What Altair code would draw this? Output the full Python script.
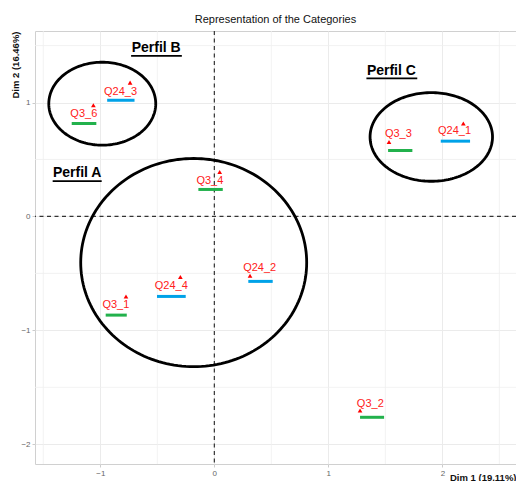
import altair as alt
import pandas as pd
import numpy as np

# ---- data ----
labels = ["Q24_3", "Q3_6", "Q3_4", "Q24_2", "Q24_4", "Q3_1", "Q3_2", "Q3_3", "Q24_1"]
pt_x = [-0.739, -1.061, 0.047, 0.313, -0.298, -0.775, 1.278, 1.532, 2.184]
pt_y = [1.175, 0.976, 0.391, -0.521, -0.532, -0.702, -1.703, 0.653, 0.816]
lab_x = [-0.823, -1.145, -0.039, 0.398, -0.378, -0.864, 1.368, 1.614, 2.107]
lab_y = [1.095, 0.897, 0.314, -0.452, -0.610, -0.778, -1.648, 0.720, 0.748]

bar_x1 = [-0.940, -1.251, -0.140, 0.298, -0.503, -0.953, 1.278, 1.524, 1.986]
bar_x2 = [-0.700, -1.035, 0.074, 0.512, -0.251, -0.768, 1.489, 1.737, 2.243]
bar_y = [1.020, 0.816, 0.237, -0.570, -0.702, -0.866, -1.763, 0.579, 0.661]
bar_group = ["Q24", "Q3", "Q3", "Q24", "Q24", "Q3", "Q3", "Q3", "Q24"]

perfil_names = ["Perfil A", "Perfil B", "Perfil C"]
perfil_x = [-1.203, -0.510, 1.553]
perfil_y = [0.342, 1.444, 1.246]
under_x1 = [-1.418, -0.730, 1.334]
under_x2 = [-0.988, -0.285, 1.780]
under_y = [0.310, 1.409, 1.213]

ell_cx = [-0.181, -0.983, 1.903]
ell_cy = [-0.405, 0.990, 0.698]
ell_rx = [0.991, 0.469, 0.537]
ell_ry = [0.914, 0.364, 0.389]

x_ticks = [-1, 0, 1, 2]
y_ticks = [-2, -1, 0, 1]
x_minor = [-1.5, -0.5, 0.5, 1.5, 2.5]
y_minor = [-1.5, -0.5, 0.5, 1.5]

X_DOMAIN = [-1.573, 2.646]
Y_DOMAIN = [-2.173, 1.628]
W, H = 481, 433
FONT = "Liberation Sans"

# ---- tables ----
pts = pd.DataFrame({"label": labels, "x": pt_x, "y": pt_y, "lx": lab_x, "ly": lab_y})
bars = pd.DataFrame({"x": bar_x1, "x2": bar_x2, "y": bar_y, "g": bar_group})
perf = pd.DataFrame({"name": perfil_names, "x": perfil_x, "y": perfil_y,
                     "ux": under_x1, "ux2": under_x2, "uy": under_y})
rows = []
t = np.linspace(0, 2 * np.pi, 181)
for k in range(len(ell_cx)):
    for i, a in enumerate(t):
        rows.append({"e": k, "i": i,
                     "x": ell_cx[k] + ell_rx[k] * np.cos(a),
                     "y": ell_cy[k] + ell_ry[k] * np.sin(a)})
ell = pd.DataFrame(rows)
xminor = pd.DataFrame({"x": x_minor})
yminor = pd.DataFrame({"y": y_minor})
zero = pd.DataFrame({"v": [0]})

xs = alt.Scale(domain=X_DOMAIN, nice=False, zero=False)
ys = alt.Scale(domain=Y_DOMAIN, nice=False, zero=False)
xaxis = alt.Axis(values=x_ticks, title="Dim 1 (19.11%)", titleAnchor="end",
                 titleAlign="right", titleX=W, titleY=16, titleBaseline="alphabetic",
                 titleFontWeight="bold", titleFontSize=9.5, titleColor="#111")
yaxis = alt.Axis(values=y_ticks, title="Dim 2 (16.46%)", titleAngle=270,
                 titleAlign="right", titleBaseline="middle", titleX=-20, titleY=0,
                 titleFontWeight="bold", titleFontSize=9.5, titleColor="#111")


def X(f):
    return alt.X(f, type="quantitative", scale=xs, axis=xaxis)


def Y(f):
    return alt.Y(f, type="quantitative", scale=ys, axis=yaxis)


base_pts = alt.Chart(pts)

minor_v = alt.Chart(xminor).mark_rule(color="#efefef", strokeWidth=0.8).encode(x=X("x"))
minor_h = alt.Chart(yminor).mark_rule(color="#efefef", strokeWidth=0.8).encode(y=Y("y"))

zero_v = alt.Chart(zero).mark_rule(color="#333333", strokeWidth=1.2,
                                   strokeDash=[4, 3.5]).encode(x=X("v"))
zero_h = alt.Chart(zero).mark_rule(color="#333333", strokeWidth=1.2,
                                   strokeDash=[4, 3.5]).encode(y=Y("v"))

ellipses = alt.Chart(ell).mark_line(color="black", strokeWidth=2.8).encode(
    x=X("x"), y=Y("y"), order="i:Q", detail="e:N")

bar_layer = alt.Chart(bars).mark_rule(strokeWidth=3).encode(
    x=X("x"), x2="x2", y=Y("y"),
    color=alt.Color("g:N", scale=alt.Scale(domain=["Q24", "Q3"],
                                           range=["#00A2E8", "#22B14C"]), legend=None))

tri = base_pts.mark_point(shape="triangle-up", filled=True, color="#ff0000",
                          size=22, opacity=1).encode(x=X("x"), y=Y("y"))

txt = base_pts.mark_text(color="#ff2020", fontSize=11, font=FONT,
                         baseline="middle", align="center").encode(
    x=X("lx"), y=Y("ly"), text="label:N")

perf_txt = alt.Chart(perf).mark_text(color="black", fontSize=14, fontWeight="bold",
                                     font=FONT, baseline="alphabetic",
                                     align="center").encode(
    x=X("x"), y=Y("y"), text="name:N")
perf_ul = alt.Chart(perf).mark_rule(color="black", strokeWidth=1.8).encode(
    x=X("ux"), x2="ux2", y=Y("uy"))

chart = alt.layer(minor_v, minor_h, zero_v, zero_h, ellipses, bar_layer, tri, txt,
                  perf_txt, perf_ul).properties(
    width=W, height=H,
    autosize="none",
    padding={"left": 27, "top": 23, "right": 0, "bottom": 17},
    title=alt.TitleParams("Representation of the Categories", fontSize=11,
                          fontWeight="normal", font=FONT, color="#111",
                          anchor="middle", baseline="alphabetic", offset=9, dy=13),
).configure_view(stroke="#d0d0d0", strokeWidth=1).configure_axis(
    domain=False, tickColor="#cccccc", tickSize=3, labelColor="#666666",
    labelFontSize=8, labelFont=FONT, titleFont=FONT, labelPadding=2,
    gridColor="#ebebeb", gridWidth=1,
)

chart.save("out.html", embed_options={"renderer": "svg", "actions": False})
